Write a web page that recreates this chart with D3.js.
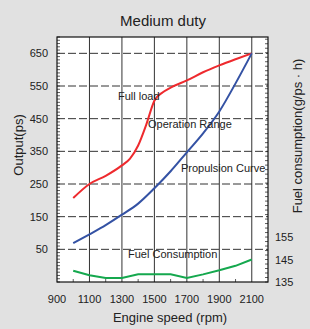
<!DOCTYPE html>
<html>
<head>
<meta charset="utf-8">
<style>
  body { margin: 0; background: #e1e1e1; }
  text { font-family: "Liberation Sans", Arial, sans-serif; fill: #222; }
</style>
</head>
<body>
<div id="chart"></div>
<script src="https://cdn.jsdelivr.net/npm/d3@7"></script>
<script>
var speeds = [1000, 1100, 1200, 1300, 1350, 1400, 1450, 1500, 1550, 1600, 1700, 1800, 1900, 2000, 2100];
var fullLoad = [207, 250, 275, 307, 328, 368, 432, 505, 530, 545, 567, 592, 613, 632, 650];

var propSpeeds = [1000, 1100, 1200, 1300, 1400, 1500, 1600, 1700, 1800, 1900, 2000, 2100];
var propulsion = [69, 96, 124, 156, 190, 237, 289, 347, 405, 472, 558, 650];

var fuelSpeeds = [1000, 1100, 1200, 1300, 1400, 1500, 1600, 1700, 1800, 1900, 2000, 2100];
var fuel = [140, 138, 136.8, 136.8, 138.4, 138.4, 138.4, 136.8, 138.4, 140.2, 142.2, 145];

var xTicks = [900, 1100, 1300, 1500, 1700, 1900, 2100];
var yTicks = [50, 150, 250, 350, 450, 550, 650];
var y2Ticks = [135, 145, 155];

var width = 310, height = 329;
var pLeft = 57, pRight = 268, pTop = 37, pBottom = 282;

var svg = d3.select("#chart").append("svg")
  .attr("width", width).attr("height", height);

var x = d3.scaleLinear().domain([900, 2200]).range([pLeft, pRight]);
var y = d3.scaleLinear().domain([-50, 700]).range([pBottom, pTop]);
var y2 = d3.scaleLinear().domain([135, 244]).range([pBottom, pTop]);

svg.append("rect")
  .attr("x", pLeft).attr("y", pTop)
  .attr("width", pRight - pLeft).attr("height", pBottom - pTop)
  .attr("fill", "#fff");

// grid
svg.selectAll(".vgrid").data(xTicks.slice(1)).enter().append("line")
  .attr("x1", d => x(d)).attr("x2", d => x(d))
  .attr("y1", pTop).attr("y2", pBottom)
  .attr("stroke", "#333").attr("stroke-width", 1);

svg.selectAll(".hgrid").data(yTicks).enter().append("line")
  .attr("x1", pLeft).attr("x2", pRight)
  .attr("y1", d => y(d)).attr("y2", d => y(d))
  .attr("stroke", "#333").attr("stroke-width", 1)
  .attr("stroke-dasharray", "8,3");

// minor ticks
svg.selectAll(".lt").data(d3.range(-50, 701, 10)).enter().append("line")
  .attr("x1", pLeft).attr("x2", pLeft + 3)
  .attr("y1", d => y(d)).attr("y2", d => y(d))
  .attr("stroke", "#333").attr("stroke-width", 0.8);

svg.selectAll(".rt").data(d3.range(135, 245, 2)).enter().append("line")
  .attr("x1", pRight).attr("x2", pRight - 3)
  .attr("y1", d => y2(d)).attr("y2", d => y2(d))
  .attr("stroke", "#333").attr("stroke-width", 0.8);

svg.selectAll(".bt").data(d3.range(1000, 2200, 200)).enter().append("line")
  .attr("x1", d => x(d)).attr("x2", d => x(d))
  .attr("y1", pBottom).attr("y2", pBottom - 3)
  .attr("stroke", "#333").attr("stroke-width", 0.8);

svg.append("rect")
  .attr("x", pLeft).attr("y", pTop)
  .attr("width", pRight - pLeft).attr("height", pBottom - pTop)
  .attr("fill", "none").attr("stroke", "#111").attr("stroke-width", 1.2);

// curves
var smooth = d3.line().curve(d3.curveMonotoneX);
svg.append("path")
  .attr("d", smooth(speeds.map((s, i) => [x(s), y(fullLoad[i])])))
  .attr("fill", "none").attr("stroke", "#ee2a2e").attr("stroke-width", 2);

svg.append("path")
  .attr("d", smooth(propSpeeds.map((s, i) => [x(s), y(propulsion[i])])))
  .attr("fill", "none").attr("stroke", "#3452a4").attr("stroke-width", 2);

svg.append("path")
  .attr("d", d3.line()(fuelSpeeds.map((s, i) => [x(s), y2(fuel[i])])))
  .attr("fill", "none").attr("stroke", "#15a84e").attr("stroke-width", 2);

// tick labels
svg.selectAll(".yl").data(yTicks).enter().append("text")
  .attr("x", pLeft - 9).attr("y", d => y(d) + 4)
  .attr("text-anchor", "end").attr("font-size", 11)
  .text(d => d);

svg.selectAll(".y2l").data(y2Ticks).enter().append("text")
  .attr("x", pRight + 7).attr("y", d => y2(d) + 4)
  .attr("font-size", 11)
  .text(d => d);

svg.selectAll(".xl").data(xTicks).enter().append("text")
  .attr("x", d => x(d)).attr("y", 303)
  .attr("text-anchor", "middle").attr("font-size", 11)
  .text(d => d);

// titles
svg.append("text").attr("x", 163).attr("y", 26)
  .attr("text-anchor", "middle").attr("font-size", 15).text("Medium duty");

svg.append("text").attr("x", 170).attr("y", 322)
  .attr("text-anchor", "middle").attr("font-size", 13).text("Engine speed (rpm)");

svg.append("text")
  .attr("transform", "translate(23,145) rotate(-90)")
  .attr("text-anchor", "middle").attr("font-size", 13).text("Output(ps)");

svg.append("text")
  .attr("transform", "translate(302,136) rotate(-90)")
  .attr("text-anchor", "middle").attr("font-size", 13).text("Fuel consumption(g/ps \u00b7 h)");

// curve labels
var notes = [
  ["Full load", 118, 100],
  ["Operation Range", 148, 128],
  ["Propulsion Curve", 181, 172],
  ["Fuel Consumption", 128, 258]
];
svg.selectAll(".note").data(notes).enter().append("text")
  .attr("x", d => d[1]).attr("y", d => d[2])
  .attr("font-size", 11).text(d => d[0]);
</script>
</body>
</html>
